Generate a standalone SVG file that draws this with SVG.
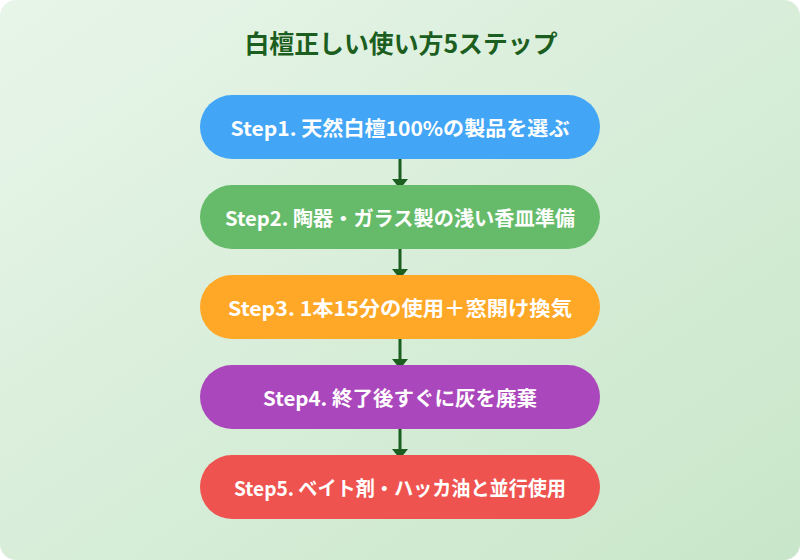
<svg xmlns="http://www.w3.org/2000/svg" width="800" height="560" viewBox="0 0 800 560">
<defs>
<linearGradient id="bg" x1="0" y1="0" x2="1" y2="1">
<stop offset="0" stop-color="#e8f5e9"/>
<stop offset="1" stop-color="#c8e6c9"/>
</linearGradient>
<style>
.box{stroke:none}
.lbl{font-family:"Noto Sans CJK JP","Noto Sans",sans-serif;font-weight:bold;font-size:20px;fill:#ffffff;text-anchor:middle;dominant-baseline:central}
.title{font-family:"Noto Sans CJK JP","Noto Sans",sans-serif;font-weight:bold;font-size:25px;fill:#1b5e20;text-anchor:middle}
.conn{stroke:#1b5e20;stroke-width:3;fill:none}
.head{fill:#1b5e20}
</style>
</defs>
<rect x="0" y="0" width="800" height="560" rx="16" fill="url(#bg)"/>
<text class="title" x="401" y="53" textLength="313" lengthAdjust="spacingAndGlyphs">白檀正しい使い方5ステップ</text>
<g id="connectors">
<line class="conn" x1="400" y1="159" x2="400" y2="179"/>
<path class="head" d="M392,179 L408,179 L400,189 Z"/>
<line class="conn" x1="400" y1="249" x2="400" y2="269"/>
<path class="head" d="M392,269 L408,269 L400,279 Z"/>
<line class="conn" x1="400" y1="339" x2="400" y2="359"/>
<path class="head" d="M392,359 L408,359 L400,369 Z"/>
<line class="conn" x1="400" y1="429" x2="400" y2="449"/>
<path class="head" d="M392,449 L408,449 L400,459 Z"/>
</g>
<g id="step1">
<rect class="box" x="200" y="95" width="400" height="64" rx="32" fill="#42a5f5"/>
<text class="lbl" x="400" y="127" textLength="339" lengthAdjust="spacingAndGlyphs">Step1. 天然白檀100%の製品を選ぶ</text>
</g>
<g id="step2">
<rect class="box" x="200" y="185" width="400" height="64" rx="32" fill="#66bb6a"/>
<text class="lbl" x="400" y="217" textLength="350" lengthAdjust="spacingAndGlyphs">Step2. 陶器・ガラス製の浅い香皿準備</text>
</g>
<g id="step3">
<rect class="box" x="200" y="275" width="400" height="64" rx="32" fill="#ffa726"/>
<text class="lbl" x="400" y="307" textLength="344" lengthAdjust="spacingAndGlyphs">Step3. 1本15分の使用＋窓開け換気</text>
</g>
<g id="step4">
<rect class="box" x="200" y="365" width="400" height="64" rx="32" fill="#ab47bc"/>
<text class="lbl" x="400" y="397" textLength="274" lengthAdjust="spacingAndGlyphs">Step4. 終了後すぐに灰を廃棄</text>
</g>
<g id="step5">
<rect class="box" x="200" y="455" width="400" height="64" rx="32" fill="#ef5350"/>
<text class="lbl" x="400" y="487" textLength="332" lengthAdjust="spacingAndGlyphs">Step5. ベイト剤・ハッカ油と並行使用</text>
</g>
</svg>
